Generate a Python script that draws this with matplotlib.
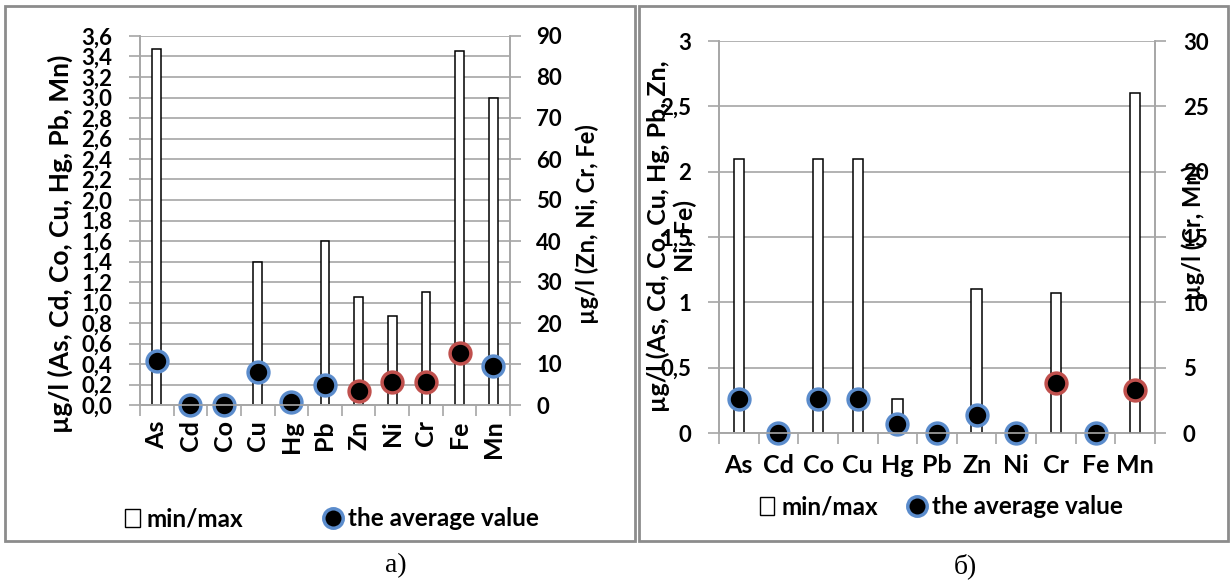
import numpy as np
import matplotlib.pyplot as plt
from matplotlib.patches import Rectangle
from matplotlib.lines import Line2D
from matplotlib.ticker import FuncFormatter

plt.rcParams['font.family'] = ['Lato', 'DejaVu Sans']
plt.rcParams['font.weight'] = 'bold'

elements = ['As', 'Cd', 'Co', 'Cu', 'Hg', 'Pb', 'Zn', 'Ni', 'Cr', 'Fe', 'Mn']

# panel a) - Zn, Ni, Cr, Fe on the right axis
a_max = [3.47, 0, 0, 1.4, 0, 1.6, 26.3, 21.8, 27.5, 86.3, 3.0]
a_avg = [0.43, 0.0, 0.0, 0.32, 0.03, 0.2, 3.5, 5.5, 5.5, 12.6, 0.38]
a_side = ['L', 'L', 'L', 'L', 'L', 'L', 'R', 'R', 'R', 'R', 'L']

# panel б) - Cr, Mn on the right axis
b_max = [2.1, 0, 2.1, 2.1, 0.26, 0, 1.1, 0, 10.7, 0, 26.0]
b_avg = [0.26, 0.0, 0.26, 0.26, 0.07, 0.0, 0.14, 0.0, 3.8, 0.0, 3.3]
b_side = ['L', 'L', 'L', 'L', 'L', 'L', 'L', 'L', 'R', 'L', 'R']

W, H = 1231, 583
fig = plt.figure(figsize=(W / 100, H / 100), dpi=100)

def px_axes(x0, y0, x1, y1):
    return fig.add_axes([x0 / W, 1 - y1 / H, (x1 - x0) / W, (y1 - y0) / H])

comma = FuncFormatter(lambda v, p: ('%g' % v).replace('.', ','))
comma1 = FuncFormatter(lambda v, p: ('%.1f' % v).replace('.', ','))

grid_c = '#a6a6a6'
blue = '#5b8ccc'
red = '#c0504d'

def panel(box, mx, avg, side, ylim_l, step_l, ylim_r, step_r, fmt_l,
          rot, fs_tick, fs_cat, cat_pad, pad_r):
    ax = px_axes(*box)
    ax2 = ax.twinx()
    x = np.arange(len(elements))
    for i in range(len(elements)):
        a = ax if side[i] == 'L' else ax2
        if mx[i] > 0:
            a.bar(x[i], mx[i], width=0.26, color='white', edgecolor='black',
                  linewidth=1.1, zorder=2)
        a.plot(x[i], avg[i], 'o', ms=15, mfc='black',
               mec=blue if side[i] == 'L' else red, mew=2.5, zorder=5,
               clip_on=False)
    ax.set_xlim(-0.5, len(elements) - 0.5)
    ax.set_ylim(0, ylim_l)
    ax2.set_ylim(0, ylim_r)
    ax.set_yticks(np.arange(0, ylim_l + 1e-9, step_l))
    ax2.set_yticks(np.arange(0, ylim_r + 1e-9, step_r))
    ax.yaxis.set_major_formatter(fmt_l)
    ax.grid(axis='y', color=grid_c, lw=1.2, zorder=0)
    ax.set_axisbelow(True)
    ax.set_xticks(x)
    ax.set_xticklabels(elements, rotation=rot, fontsize=fs_cat)
    ax.set_xticks(np.arange(-0.5, len(elements)), minor=True)
    ax.tick_params(axis='x', which='major', length=0, pad=cat_pad)
    ax.tick_params(axis='x', which='minor', length=8, color=grid_c, width=1.2)
    ax.tick_params(axis='y', length=8, color=grid_c, width=1.2,
                   labelsize=fs_tick, pad=12)
    ax2.tick_params(axis='y', length=8, color=grid_c, width=1.2,
                    labelsize=fs_tick, pad=pad_r)
    for a in (ax, ax2):
        a.spines['top'].set_visible(False)
        for s in ('left', 'right', 'bottom'):
            a.spines[s].set_color(grid_c)
            a.spines[s].set_linewidth(1.2)
    return ax, ax2

# a)
ax, ax2 = panel((140, 36, 510, 405), a_max, a_avg, a_side, 3.6, 0.2, 90, 10,
                comma1, 90, 16, 18, 11, 11)
fig.text(60 / W, 1 - 244 / H, 'µg/l (As, Cd, Co, Cu, Hg, Pb, Mn)', rotation=90,
         ha='center', va='center', fontsize=19)
fig.text(587 / W, 1 - 224 / H, 'µg/l (Zn, Ni, Cr, Fe)', rotation=90,
         ha='center', va='center', fontsize=17)

# б)
bx, bx2 = panel((719, 41, 1155, 433), b_max, b_avg, b_side, 3, 0.5, 30, 5,
                comma, 0, 16, 18, 15, 12)
fig.text(672 / W, 1 - 236 / H, 'µg/l (As, Cd, Co, Cu, Hg, Pb, Zn,\nNi, Fe)',
         rotation=90, ha='center', va='center', fontsize=18, linespacing=1.2)
fig.text(1193 / W, 1 - 232 / H, 'µg/l (Cr, Mn)', rotation=90,
         ha='center', va='center', fontsize=17)

# legends
handles = [Rectangle((0, 0), 1, 1, facecolor='white', edgecolor='black', lw=1),
           Line2D([], [], marker='o', ls='none', ms=14, mfc='black', mec=blue,
                  mew=2.5)]
labels = ['min/max', 'the average value']
fig.legend(handles, labels, loc='center', bbox_to_anchor=(332 / W, 1 - 519 / H),
           ncol=2, frameon=False, fontsize=17.5, handlelength=0.6,
           handletextpad=0.3, columnspacing=3.4)
fig.legend(handles, labels, loc='center', bbox_to_anchor=(941 / W, 1 - 507 / H),
           ncol=2, frameon=False, fontsize=17.5, handlelength=0.6,
           handletextpad=0.3, columnspacing=1.3)

# panel frames
for x0, x1 in ((5, 635), (639, 1228)):
    fig.patches.append(Rectangle((x0 / W, 1 - 541 / H), (x1 - x0) / W,
                                 (541 - 6) / H, transform=fig.transFigure,
                                 fill=False, edgecolor='#8c8c8c', lw=2))

fig.text(396 / W, 1 - 566 / H, 'a)', ha='center', va='center', fontsize=20,
         family='Liberation Serif', weight='normal')
fig.text(965 / W, 1 - 566 / H, 'б)', ha='center', va='center', fontsize=20,
         family='Liberation Serif', weight='normal')

fig.savefig('out.png', dpi=100)
